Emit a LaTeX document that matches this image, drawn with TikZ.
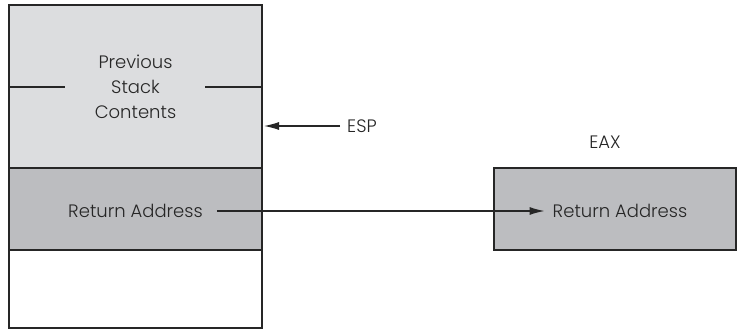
\documentclass[tikz,border=0pt]{standalone}
\usepackage{fontspec}
\setmainfont{Poppins}[UprightFont=* Light]
\usetikzlibrary{arrows.meta}
\definecolor{lightg}{HTML}{DCDDDF}
\definecolor{darkg}{HTML}{BCBDC0}
\begin{document}
\begin{tikzpicture}[x=1pt,y=-1pt,
  cell/.style={draw=black!85,line width=1.2pt},
  lbl/.style={font=\fontsize{18}{25}\selectfont,text=black!85,inner sep=0pt},
  arr/.style={draw=black!85,line width=1.2pt,-{Latex[length=15pt,width=8pt]}}]
\useasboundingbox (0,0) rectangle (740,331);
\fill[lightg] (9,5) rectangle (262,168);
\fill[darkg] (9,168) rectangle (262,250);
\fill[white] (9,250) rectangle (262,328);
\draw[cell] (9,5) rectangle (262,328);
\draw[cell] (9,168) -- (262,168);
\draw[cell] (9,250) -- (262,250);
\draw[cell] (9,87) -- (65,87);
\draw[cell] (205,87) -- (262,87);
\node[lbl,align=center] (prev) at (135.5,87) {Previous\\Stack\\Contents};
\coordinate (stackright) at (264,126);
\node[lbl,anchor=west] (esp) at (347,126) {ESP};
\draw[arr] (esp.west) ++(-7,0) -- (stackright);
\node[lbl] (ret1) at (135.5,211) {Return Address};
\fill[darkg] (494,168) rectangle (736,250);
\draw[cell] (494,168) rectangle (736,250);
\node[lbl] (ret2) at (620,211) {Return Address};
\node[lbl] (eax) at (605,142) {EAX};
\draw[arr] (ret1.east) ++(14,0) -- ([xshift=-8pt]ret2.west);
\end{tikzpicture}
\end{document}
